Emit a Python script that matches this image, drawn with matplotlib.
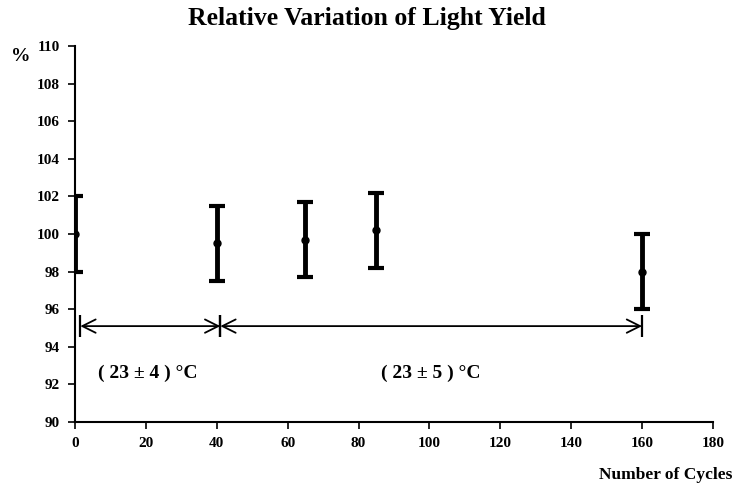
import numpy as np
import matplotlib.pyplot as plt

# data
cycles = [0, 40, 65, 85, 160]
light_yield = [100.0, 99.5, 99.7, 100.2, 98.0]
yield_err = [2.0, 2.0, 2.0, 2.0, 2.0]

ranges = [(1.5, 41), (41, 160)]
range_labels = ['( 23 ± 4 ) °C', '( 23 ± 5 ) °C']
label_x = [20.5, 100.5]
arrow_y = 95.1

plt.rcParams['font.family'] = ['Liberation Serif', 'DejaVu Serif']
plt.rcParams['font.weight'] = 'bold'

fig = plt.figure(figsize=(7.33, 4.87), dpi=100)
ax = fig.add_axes([0.1023, 0.1335, 0.8704, 0.772])

ax.errorbar(cycles, light_yield, yerr=yield_err, fmt='o', color='black',
            ms=5, elinewidth=3.5, capsize=5.5, capthick=3)

for (x0, x1), txt, tx in zip(ranges, range_labels, label_x):
    ax.annotate('', xy=(x1, arrow_y), xytext=(x0, arrow_y),
                arrowprops=dict(arrowstyle='<->', color='black', lw=1.3,
                                mutation_scale=24, shrinkA=0, shrinkB=0))
    ax.plot([x0, x1], [arrow_y, arrow_y], ls='none', marker='|', ms=16,
            mew=1.6, color='black')
    ax.text(tx, 92.6, txt, ha='center', va='center', fontsize=14, fontweight='bold')

ax.set_xlim(0, 180)
ax.set_ylim(90, 110)
ax.set_xticks(np.arange(0, 181, 20))
ax.set_yticks(np.arange(90, 111, 2))
ax.spines['top'].set_visible(False)
ax.spines['right'].set_visible(False)
ax.spines['left'].set_linewidth(1.5)
ax.spines['bottom'].set_linewidth(1.5)
ax.tick_params(labelsize=11, length=5, width=1.2, pad=6)
for lab in ax.get_xticklabels() + ax.get_yticklabels():
    lab.set_fontweight('bold')

fig.text(0.5, 0.963, 'Relative Variation of Light Yield', ha='center', va='center',
         fontsize=18.5, fontweight='bold')
fig.text(0.028, 0.883, '%', ha='center', va='center', fontsize=14, fontweight='bold')
fig.text(0.9986, 0.025, 'Number of Cycles', ha='right', va='center',
         fontsize=12.5, fontweight='bold')

fig.savefig('out.png', dpi=100)
